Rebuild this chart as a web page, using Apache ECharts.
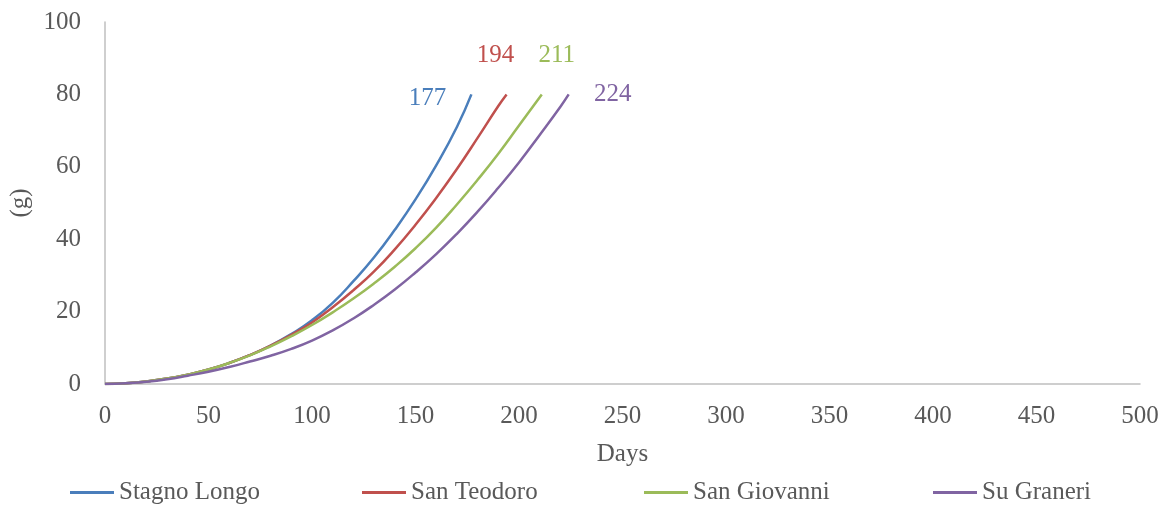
<!DOCTYPE html>
<html>
<head>
<meta charset="utf-8">
<script src="https://cdn.jsdelivr.net/npm/echarts@6/dist/echarts.min.js"></script>
<style>
html,body{margin:0;padding:0;background:#fff;}
#chart{width:1168px;height:518px;}
</style>
</head>
<body>
<div id="chart"></div>
<script>
// Data
const seriesNames = ['Stagno Longo', 'San Teodoro', 'San Giovanni', 'Su Graneri'];
const seriesColors = ['#4A7EBB', '#C0504D', '#9BBB59', '#8064A2'];

const stagnoDays  = [0, 10, 20, 30, 40, 50, 60, 70, 80, 90, 100, 110, 120, 130, 140, 150, 160, 170, 177];
const stagnoGrams = [0, 0.2, 0.7, 1.5, 2.6, 4.0, 5.8, 8.0, 10.6, 13.8, 17.6, 22.4, 28.4, 35.0, 42.6, 51.0, 60.4, 71.0, 80];

const teodoroDays  = [0, 10, 20, 30, 40, 50, 60, 70, 80, 90, 100, 110, 120, 130, 140, 150, 160, 170, 180, 190, 194];
const teodoroGrams = [0, 0.2, 0.7, 1.5, 2.6, 4.0, 5.8, 8.0, 10.6, 13.6, 17.0, 21.2, 25.9, 31.1, 37.2, 44.0, 51.4, 59.4, 68.0, 76.8, 80];

const giovanniDays  = [0, 10, 20, 30, 40, 50, 60, 70, 80, 90, 100, 110, 120, 130, 140, 150, 160, 170, 180, 190, 200, 211];
const giovanniGrams = [0, 0.2, 0.7, 1.5, 2.6, 4.0, 5.8, 7.9, 10.4, 13.2, 16.3, 19.8, 23.6, 27.8, 32.4, 37.5, 43.2, 49.6, 56.4, 63.6, 71.4, 80];

const graneriDays  = [0, 10, 20, 30, 40, 50, 60, 70, 80, 90, 100, 110, 120, 130, 140, 150, 160, 170, 180, 190, 200, 210, 220, 224];
const graneriGrams = [0, 0.2, 0.6, 1.3, 2.3, 3.4, 4.7, 6.2, 7.8, 9.7, 12.0, 14.8, 18.1, 21.9, 26.1, 30.8, 35.9, 41.5, 47.6, 54.2, 61.2, 68.8, 76.6, 80];

const xTicks = [0, 50, 100, 150, 200, 250, 300, 350, 400, 450, 500];
const yTicks = [0, 20, 40, 60, 80, 100];

const allDays = [stagnoDays, teodoroDays, giovanniDays, graneriDays];
const allGrams = [stagnoGrams, teodoroGrams, giovanniGrams, graneriGrams];
const endLabelOffsets = [[-44, 4], [-11, -39], [15, -39], [44, 0]];
const legendLefts = [65, 357, 639, 928];

const FONT = '"Liberation Serif", "Times New Roman", serif';
const chart = echarts.init(document.getElementById('chart'), null, {renderer: 'canvas'});

const series = seriesNames.map((name, i) => ({
  name: name,
  type: 'line',
  smooth: 0.5,
  showSymbol: false,
  symbol: 'none',
  lineStyle: {width: 2.5, color: seriesColors[i]},
  itemStyle: {color: seriesColors[i]},
  data: allDays[i].map((d, k) => [d, allGrams[i][k]]),
  endLabel: {
    show: true,
    formatter: p => String(p.value[0]),
    color: seriesColors[i],
    fontFamily: FONT,
    fontSize: 25,
    distance: 0,
    align: 'center',
    verticalAlign: 'middle',
    offset: endLabelOffsets[i]
  },
  emphasis: {disabled: true}
}));

const legends = seriesNames.map((name, i) => ({
  data: [name],
  left: legendLefts[i],
  top: 475,
  icon: 'rect',
  itemWidth: 44,
  itemHeight: 3,
  itemGap: 5,
  textStyle: {fontFamily: FONT, fontSize: 25, color: '#595959'}
}));

chart.setOption({
  backgroundColor: '#fff',
  animation: false,
  grid: {left: 105, right: 28, top: 22, bottom: 134, containLabel: false, outerBoundsMode: 'none'},
  legend: legends,
  xAxis: {
    type: 'value',
    min: xTicks[0],
    max: xTicks[xTicks.length - 1],
    interval: xTicks[1] - xTicks[0],
    name: 'Days',
    nameLocation: 'middle',
    nameGap: 58,
    nameTextStyle: {fontFamily: FONT, fontSize: 25, color: '#595959'},
    axisLine: {show: true, lineStyle: {color: '#BFBFBF', width: 1.5}},
    axisTick: {show: false},
    splitLine: {show: false},
    axisLabel: {fontFamily: FONT, fontSize: 25, color: '#595959', margin: 20}
  },
  yAxis: {
    type: 'value',
    min: yTicks[0],
    max: yTicks[yTicks.length - 1],
    interval: yTicks[1] - yTicks[0],
    name: '(g)',
    nameLocation: 'middle',
    nameGap: 72,
    nameRotate: 90,
    nameTextStyle: {fontFamily: FONT, fontSize: 25, color: '#595959'},
    axisLine: {show: true, lineStyle: {color: '#BFBFBF', width: 1.5}},
    axisTick: {show: false},
    splitLine: {show: false},
    axisLabel: {fontFamily: FONT, fontSize: 25, color: '#595959', margin: 24}
  },
  series: series
});
</script>
</body>
</html>
